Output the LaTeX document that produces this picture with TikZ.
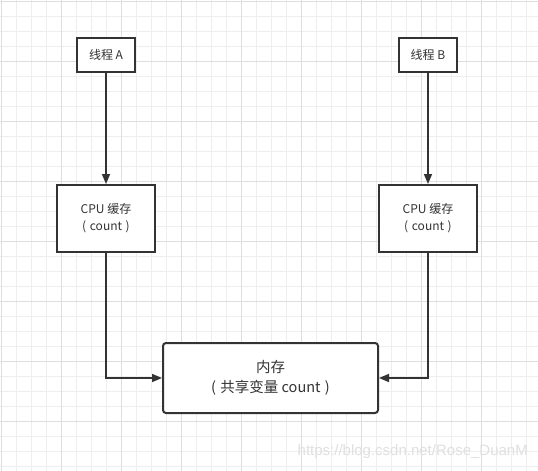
\documentclass[tikz,border=0pt]{standalone}
\usepackage{fontspec}
\setmainfont{Noto Sans CJK SC}
\newfontfamily\wmfont{Liberation Sans}
\usetikzlibrary{arrows.meta, positioning}

\definecolor{ink}{HTML}{333333}
\definecolor{gridlight}{HTML}{EEEEEE}
\definecolor{griddark}{HTML}{DEDEDE}
\newcommand{\gap}{\hspace{0.3em}}

\begin{document}
\begin{tikzpicture}[
    x=1pt, y=-1pt,
    thread/.style={draw=ink, line width=2pt, fill=white, text=ink, minimum width=58pt, minimum height=34pt, inner sep=0pt, font=\fontsize{12}{14}\selectfont},
    cache/.style={draw=ink, line width=2pt, fill=white, text=ink, minimum width=98pt, minimum height=67pt, inner sep=0pt, align=center, font=\fontsize{12}{17}\selectfont},
    memory/.style={draw=ink, line width=2pt, fill=white, text=ink, rounded corners=3pt, minimum width=215pt, minimum height=70pt, inner sep=0pt, align=center, font=\fontsize{14.5}{20}\selectfont},
    arrow/.style={-{Triangle[length=10pt, width=8pt]}, line width=1.6pt, draw=ink}
]
\useasboundingbox (0,0) rectangle (538,471);
\fill[white] (0,0) rectangle (538,471);

% grid
\foreach \g in {1,16,...,537} {
    \draw[gridlight, line width=1pt] (\g,0) -- (\g,471);
}
\foreach \g in {1,16,...,470} {
    \draw[gridlight, line width=1pt] (0,\g) -- (538,\g);
}
\foreach \g in {1,61,...,537} {
    \draw[griddark, line width=1pt] (\g,0) -- (\g,471);
}
\foreach \g in {1,61,...,470} {
    \draw[griddark, line width=1pt] (0,\g) -- (538,\g);
}

\node[thread] (thrA) at (106,55) {线程 A};
\node[thread, right=262pt of thrA] (thrB) {线程 B};
\node[cache, below=111pt of thrA] (cpuA) {CPU 缓存\\(\gap count\gap )};
\node[cache, below=111pt of thrB] (cpuB) {CPU 缓存\\(\gap count\gap )};
\node[memory] (mem) at (270.5,378) {内存\\(\gap 共享变量 count\gap )};

\draw[arrow] (thrA) -- (cpuA);
\draw[arrow] (thrB) -- (cpuB);
\draw[arrow] (cpuA.south) |- (mem.west);
\draw[arrow] (cpuB.south) |- (mem.east);

% watermark
\node[text=black!12, font=\wmfont\fontsize{15}{15}\selectfont, anchor=east, inner sep=0pt] (mark) at (528,452) {https://blog.csdn.net/Rose\_DuanM};
\end{tikzpicture}
\end{document}
